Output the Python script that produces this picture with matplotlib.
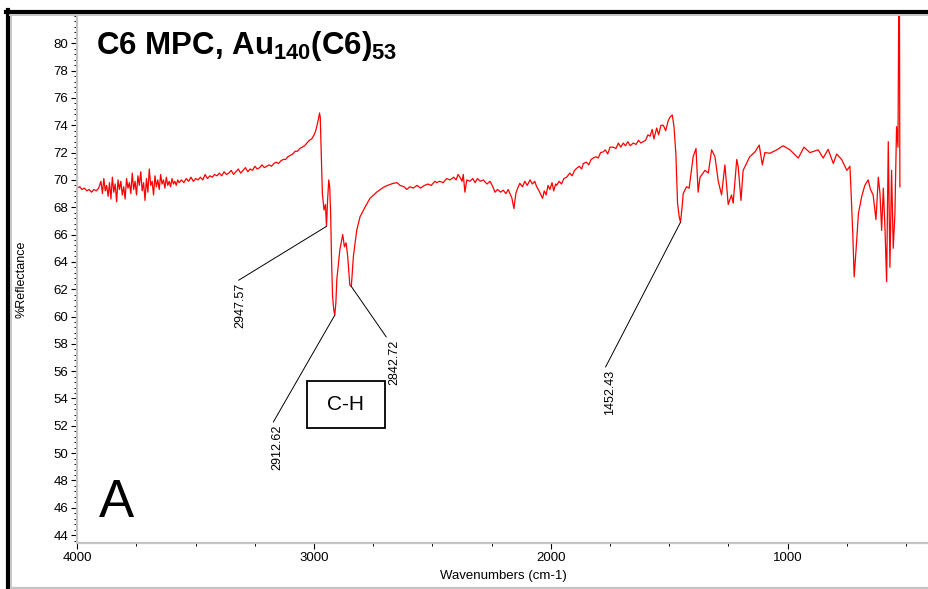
import numpy as np
import matplotlib
matplotlib.use("Agg")
import matplotlib.pyplot as plt
from matplotlib.lines import Line2D
from matplotlib.patches import Rectangle
from matplotlib.ticker import MultipleLocator

plt.rcParams["font.family"] = ["Liberation Sans", "DejaVu Sans"]
plt.rcParams["mathtext.fontset"] = "custom"
plt.rcParams["mathtext.rm"] = "Liberation Sans"
plt.rcParams["mathtext.bf"] = "Liberation Sans:bold"

# ── Spectrum (wavenumber cm-1, %Reflectance) ──────────────────────────────────
high_wn = [4000, 3990, 3980, 3970, 3960, 3950, 3940, 3930, 3920, 3910,
           3900, 3894, 3888, 3882, 3876, 3870, 3864, 3858, 3852, 3846,
           3840, 3834, 3828, 3822, 3816, 3810, 3804, 3798, 3792, 3786,
           3780, 3774, 3768, 3762, 3756, 3750, 3744, 3738, 3732, 3726,
           3720, 3714, 3708, 3702, 3696, 3690, 3684, 3678, 3672, 3666,
           3660, 3654, 3648, 3642, 3636, 3630, 3624, 3618, 3612, 3606,
           3600, 3594, 3588, 3582, 3576, 3570]
high_r = [69.4, 69.5, 69.3, 69.4, 69.2, 69.3, 69.1, 69.3, 69.2, 69.4,
          69.9, 69.0, 70.1, 69.2, 69.6, 68.8, 69.8, 68.6, 70.2, 69.1,
          69.7, 68.4, 70.0, 69.3, 69.9, 68.9, 69.5, 68.6, 70.1, 69.4,
          69.8, 69.0, 70.5, 69.3, 69.9, 68.9, 70.3, 69.6, 70.6, 69.2,
          69.8, 68.5, 70.1, 69.1, 70.8, 69.6, 69.9, 68.9, 70.3, 69.5,
          70.0, 69.3, 70.4, 69.7, 70.0, 69.4, 70.2, 69.6, 69.9, 69.5,
          70.1, 69.7, 69.9, 69.6, 70.0, 69.8]

rise_wn = [3560, 3550, 3540, 3530, 3520, 3510, 3500, 3490, 3480, 3470,
           3460, 3450, 3440, 3430, 3420, 3410, 3400, 3390, 3380, 3370,
           3360, 3350, 3340, 3330, 3320, 3310, 3300, 3290, 3280, 3270,
           3260, 3250, 3240, 3230, 3220, 3210, 3200, 3190, 3180, 3170,
           3160, 3150, 3140, 3130, 3120, 3110, 3100, 3090, 3080, 3070,
           3060, 3050, 3040, 3030, 3020, 3010, 3000, 2995, 2990, 2985,
           2980, 2977, 2974]
rise_r = [70.0, 69.8, 70.1, 69.9, 70.2, 69.9, 70.1, 70.0, 70.2, 70.0,
          70.4, 70.1, 70.3, 70.2, 70.4, 70.3, 70.5, 70.3, 70.6, 70.4,
          70.5, 70.7, 70.4, 70.6, 70.8, 70.5, 70.7, 70.9, 70.6, 70.8,
          70.7, 71.0, 70.8, 70.9, 71.1, 70.9, 71.0, 71.1, 71.0, 71.2,
          71.3, 71.2, 71.4, 71.5, 71.5, 71.7, 71.8, 71.9, 72.1, 72.1,
          72.3, 72.4, 72.5, 72.7, 72.9, 73.0, 73.3, 73.5, 73.8, 74.2,
          74.6, 74.9, 74.6]

ch_wn = [2970, 2965, 2958, 2952, 2947.57, 2943, 2938, 2934, 2930, 2926,
         2922, 2917, 2912.62, 2908, 2904, 2891, 2879, 2872, 2865, 2858,
         2849, 2842.72, 2834, 2820, 2806, 2785, 2764, 2736, 2708, 2690,
         2666, 2650, 2637, 2620, 2609, 2595, 2581, 2565, 2550, 2539,
         2520, 2505, 2490, 2482, 2470, 2455, 2440, 2426, 2410, 2400,
         2392]
ch_r = [72.0, 69.0, 67.8, 68.2, 66.6, 68.5, 70.0, 69.5, 67.5, 64.0,
        61.5, 60.5, 60.1, 61.0, 62.7, 64.9, 66.0, 65.1, 65.4, 64.4,
        62.3, 62.2, 64.4, 66.3, 67.3, 68.0, 68.65, 69.1, 69.45, 69.6,
        69.75, 69.8, 69.6, 69.5, 69.3, 69.5, 69.4, 69.6, 69.4, 69.55,
        69.7, 69.6, 69.9, 69.8, 69.9, 69.8, 70.1, 70.0, 70.2, 70.0,
        70.4]

mid_wn = [2384, 2375, 2370, 2363, 2355, 2342, 2330, 2320, 2310, 2298,
          2285, 2270, 2257, 2245, 2236, 2225, 2212, 2201, 2190, 2180,
          2173, 2165, 2156, 2148, 2140, 2131, 2120, 2110, 2100, 2088,
          2078, 2068, 2060, 2050, 2042, 2035, 2028, 2020, 2012, 2004,
          1995, 1988, 1980, 1976, 1965, 1955, 1945, 1933, 1920, 1910,
          1900, 1891, 1880, 1870, 1863, 1850, 1840, 1830, 1821, 1810,
          1800, 1790, 1779, 1770, 1760, 1750, 1737, 1725, 1715, 1705,
          1694, 1685, 1675, 1665, 1652, 1640, 1630, 1620, 1610, 1600,
          1590, 1581, 1572, 1565, 1553, 1545, 1535, 1525, 1515, 1505,
          1497, 1487, 1480, 1472, 1465, 1458]
mid_r = [70.2, 69.9, 70.4, 69.1, 70.0, 69.9, 70.1, 69.8, 70.1, 69.9,
         70.0, 69.7, 69.9, 69.5, 69.1, 69.3, 69.1, 69.25, 69.0, 69.3,
         69.0, 68.7, 67.9, 69.0, 69.4, 69.75, 69.5, 69.9, 69.6, 70.0,
         69.7, 69.9, 69.5, 69.2, 68.9, 68.65, 69.2, 68.9, 69.6, 69.3,
         69.8, 69.2, 69.7, 69.6, 69.9, 69.7, 70.1, 70.2, 70.5, 70.3,
         70.7, 70.85, 71.0, 70.8, 71.2, 71.3, 71.1, 71.5, 71.6, 71.7,
         71.6, 72.0, 72.05, 72.2, 71.9, 72.4, 72.4, 72.3, 72.7, 72.4,
         72.7, 72.5, 72.8, 72.5, 72.7, 72.6, 72.9, 72.7, 72.8, 72.9,
         73.3, 73.2, 73.7, 73.0, 73.8, 73.3, 74.0, 74.0, 73.6, 74.3,
         74.6, 74.75, 73.9, 71.9, 68.3, 67.3]

fp_wn = [1452.43, 1447, 1441, 1427, 1416, 1399, 1387, 1378, 1370, 1349,
         1335, 1321, 1307, 1293, 1279, 1265, 1251, 1237, 1230, 1215,
         1209, 1197, 1188, 1160, 1138, 1120, 1107, 1096, 1075, 1046,
         1019, 990, 955, 931, 906, 871, 850, 829, 807, 793,
         772, 750, 737, 733, 725, 719, 711, 701, 687, 674,
         660, 650, 639, 627, 617, 610, 603, 596, 589, 582,
         575, 568, 561, 554, 547, 540, 534, 530, 528, 526]
fp_r = [66.9, 67.8, 69.0, 69.5, 69.4, 71.7, 72.3, 69.1, 70.2, 70.7,
        70.5, 72.2, 71.7, 69.9, 68.9, 71.1, 68.2, 68.9, 68.3, 71.5,
        71.0, 68.5, 70.7, 71.7, 72.05, 72.55, 71.1, 72.0, 71.95, 72.2,
        72.5, 72.2, 71.6, 72.4, 72.0, 72.2, 71.6, 72.24, 71.2, 71.9,
        71.5, 70.7, 71.0, 69.5, 66.1, 62.9, 64.9, 67.55, 68.8, 69.6,
        70.0, 69.3, 68.9, 67.1, 70.2, 69.0, 66.3, 69.4, 66.5, 62.55,
        72.8, 63.6, 70.7, 65.0, 67.5, 73.9, 72.4, 85.0, 85.0, 69.5]

# ── Peak labels ───────────────────────────────────────────────────────────────
peak_wn = [2947.57, 2912.62, 2842.72, 1452.43]
peak_r = [66.6, 60.1, 62.2, 66.9]
label_wn = [3338, 3179, 2687, 1775]
label_r = [62.45, 52.07, 58.3, 56.1]

W, H = 929, 589


def fx(px):
    return px / W


def fy(py):
    return 1 - py / H


fig = plt.figure(figsize=(W / 100, H / 100), dpi=100)
ax = fig.add_axes([fx(77.3), fy(543), fx(929 - 77.3), (543 - 16) / H])

wn = np.concatenate([high_wn, rise_wn, ch_wn, mid_wn, fp_wn])
refl = np.concatenate([high_r, rise_r, ch_r, mid_r, fp_r])
ax.plot(wn, refl, color="#ff0000", lw=0.9)

ax.set_xlim(4000, 403)
ax.set_ylim(43.42, 82.0)
ax.set_xticks([4000, 3000, 2000, 1000])
ax.xaxis.set_minor_locator(MultipleLocator(250))
ax.set_yticks(np.arange(44, 81, 2))
ax.yaxis.set_minor_locator(MultipleLocator(0.4))

for side in ("top", "right"):
    ax.spines[side].set_visible(False)
for side in ("left", "bottom"):
    ax.spines[side].set_color("#c4c4c4")
    ax.spines[side].set_linewidth(1.6)

ax.tick_params(axis="both", which="major", labelsize=9.5, direction="out",
               length=4, width=0.8, color="black", pad=2.5)
ax.tick_params(axis="both", which="minor", direction="out",
               length=2, width=0.7, color="black")

ax.set_xlabel("Wavenumbers (cm-1)", fontsize=9.5)
ax.xaxis.set_label_coords(0.5, -(570 - 543) / 527)
ax.set_ylabel("%Reflectance", fontsize=9)
ax.yaxis.set_label_coords((27 - 77.3) / 851.7, 0.5)

for p, v, lx, ly in zip(peak_wn, peak_r, label_wn, label_r):
    ax.annotate(f"{p:.2f}", xy=(p, v), xytext=(lx, ly), rotation=90,
                ha="left", va="top", fontsize=9,
                arrowprops=dict(arrowstyle="-", color="black", lw=0.7,
                                shrinkA=0, shrinkB=0, relpos=(0, 1)))

fig.text(fx(96), fy(54), r"C6 MPC, Au$_{\mathbf{140}}$(C6)$_{\mathbf{53}}$",
         fontsize=22.5, fontweight="bold", va="baseline", ha="left")
fig.text(fx(99), fy(517), "A", fontsize=38, va="baseline", ha="left")

fig.add_artist(Rectangle((fx(307), fy(428)), 78 / W, 47 / H,
                         transform=fig.transFigure, fill=False,
                         ec="black", lw=1.3))
fig.text(fx(346), fy(405), "C-H", fontsize=15, ha="center", va="center")

# window frame
fig.add_artist(Line2D([fx(8), fx(8)], [fy(10), fy(589)], color="black", lw=3))
fig.add_artist(Line2D([fx(6), fx(929)], [fy(12), fy(12)], color="black", lw=3))
fig.add_artist(Line2D([fx(11), fx(11)], [fy(14.5), fy(588)], color="#c4c4c4", lw=1.4))
fig.add_artist(Line2D([fx(10), fx(929)], [fy(15), fy(15)], color="#c4c4c4", lw=1.4))
fig.add_artist(Line2D([fx(11), fx(929)], [fy(587.5), fy(587.5)], color="#c4c4c4", lw=1.6))

fig.savefig("out.png", dpi=100)
